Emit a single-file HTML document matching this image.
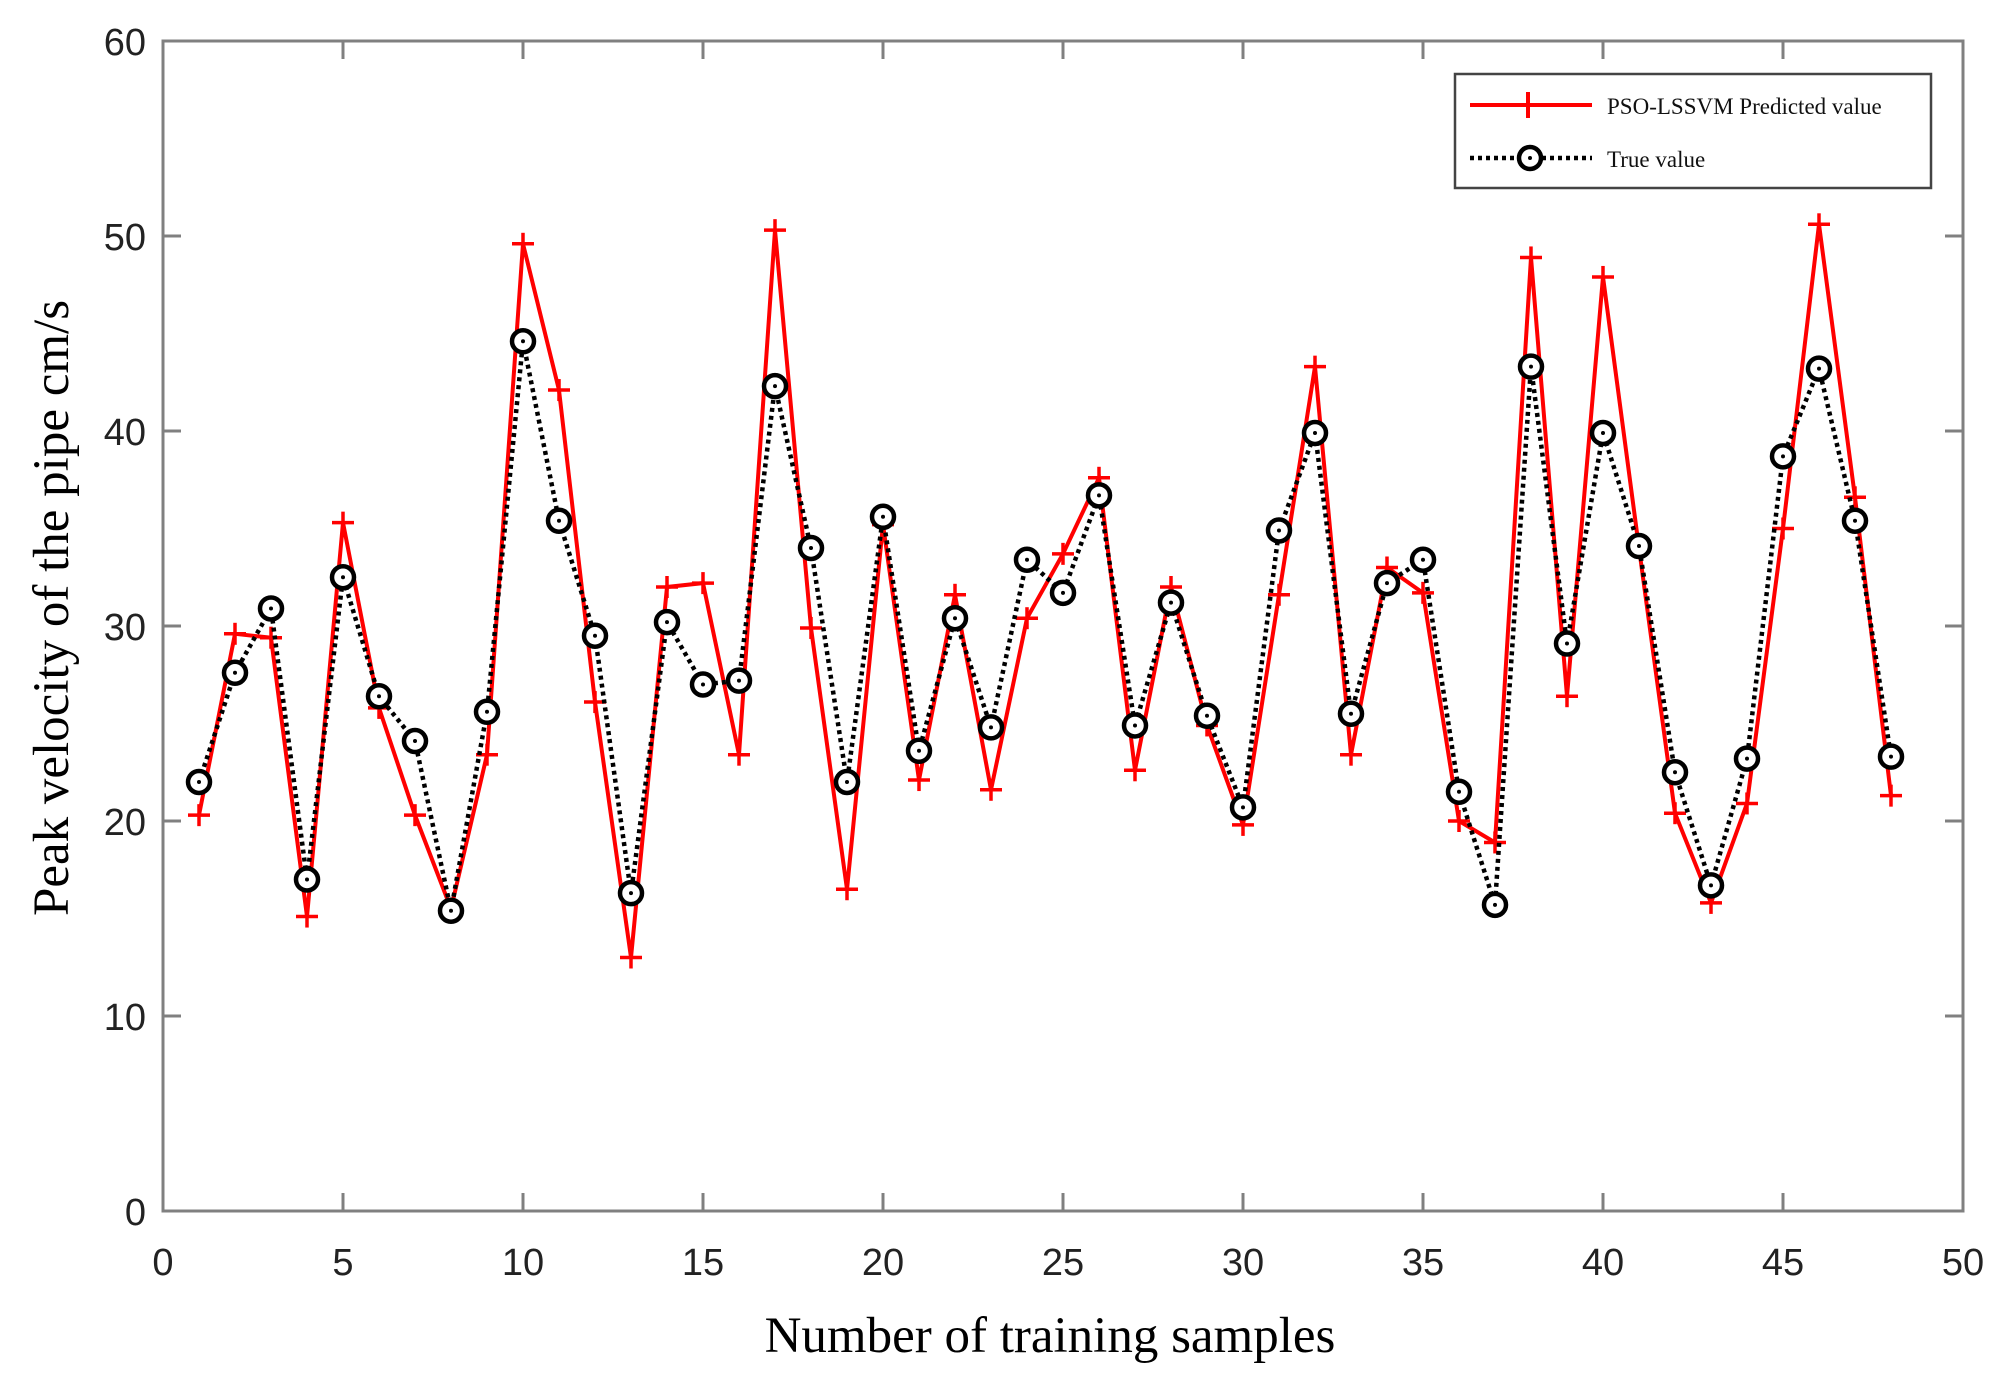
<!DOCTYPE html>
<html><head><meta charset="utf-8"><style>
html,body{margin:0;padding:0;background:#fff;}
svg{display:block;}
</style></head><body>
<svg id="chart" width="2006" height="1382" viewBox="0 0 2006 1382" xmlns="http://www.w3.org/2000/svg">
<rect width="2006" height="1382" fill="#fff"/>
<g id="axes"></g>
<g id="series"></g>
<g>
  <rect x="1455" y="74" width="476" height="114" fill="#fff" stroke="#444" stroke-width="2.5"/>
  <g>
    <line x1="1470" y1="105" x2="1592" y2="105" stroke="#ff0000" stroke-width="4"/>
    <line x1="1528" y1="92" x2="1528" y2="118" stroke="#ff0000" stroke-width="4"/>
    <text x="1607" y="114" font-family="Liberation Serif, serif" font-size="23" fill="#111">PSO-LSSVM Predicted value</text>
  </g>
  <g>
    <line x1="1470" y1="158" x2="1592" y2="158" stroke="#000" stroke-width="4.5" stroke-dasharray="4,4"/>
    <circle cx="1530" cy="158" r="11" fill="#fff" stroke="#000" stroke-width="4.5"/>
    <circle cx="1530" cy="158" r="2" fill="#000"/>
    <text x="1607" y="167" font-family="Liberation Serif, serif" font-size="23" fill="#111">True value</text>
  </g>
</g>
<text x="1050" y="1352" text-anchor="middle" font-family="Liberation Serif, serif" font-size="51" fill="#000">Number of training samples</text>
<text transform="translate(68,608) rotate(-90)" text-anchor="middle" font-family="Liberation Serif, serif" font-size="51" fill="#000">Peak velocity of the pipe cm/s</text>
</svg>
<script>
const samples = [1,2,3,4,5,6,7,8,9,10,11,12,13,14,15,16,17,18,19,20,21,22,23,24,25,26,27,28,29,30,31,32,33,34,35,36,37,38,39,40,41,42,43,44,45,46,47,48];
const predicted = [20.3,29.6,29.4,15.1,35.3,25.8,20.3,15.5,23.4,49.6,42.1,26.1,13.0,32.0,32.2,23.4,50.3,29.9,16.5,35.2,22.1,31.6,21.6,30.4,33.7,37.6,22.6,32.0,24.9,19.8,31.6,43.3,23.4,33.0,31.7,20.0,18.9,48.9,26.4,47.9,34.0,20.4,15.8,20.9,35.0,50.6,36.6,21.3];
const trueVals = [22.0,27.6,30.9,17.0,32.5,26.4,24.1,15.4,25.6,44.6,35.4,29.5,16.3,30.2,27.0,27.2,42.3,34.0,22.0,35.6,23.6,30.4,24.8,33.4,31.7,36.7,24.9,31.2,25.4,20.7,34.9,39.9,25.5,32.2,33.4,21.5,15.7,43.3,29.1,39.9,34.1,22.5,16.7,23.2,38.7,43.2,35.4,23.3];
const xTicks = [0,5,10,15,20,25,30,35,40,45,50];
const yTicks = [0,10,20,30,40,50,60];

const NS = 'http://www.w3.org/2000/svg';
const L=163,R=1963,T=41,B=1211;
const xs = v => L + (v-0)/(50-0)*(R-L);
const ys = v => B - (v-0)/(60-0)*(B-T);
function mk(tag, attrs, parent){const e=document.createElementNS(NS,tag);for(const k in attrs)e.setAttribute(k,attrs[k]);parent.appendChild(e);return e;}
const axes=document.getElementById('axes'), ser=document.getElementById('series');
const frame=mk('rect',{x:L,y:T,width:R-L,height:B-T,fill:'none',stroke:'#808080','stroke-width':3},axes);


xTicks.forEach(t=>{
  const x=xs(t);
  mk('line',{x1:x,y1:B,x2:x,y2:B-18,stroke:'#808080','stroke-width':3},axes);
  mk('line',{x1:x,y1:T,x2:x,y2:T+18,stroke:'#808080','stroke-width':3},axes);
  const tx=mk('text',{x:x,y:1275,'text-anchor':'middle','font-family':'Liberation Sans, sans-serif','font-size':38,fill:'#222'},axes);
  tx.textContent=t;
  
  
});
yTicks.forEach(t=>{
  const y=ys(t);
  mk('line',{x1:L,y1:y,x2:L+18,y2:y,stroke:'#808080','stroke-width':3},axes);
  mk('line',{x1:R,y1:y,x2:R-18,y2:y,stroke:'#808080','stroke-width':3},axes);
  const tx=mk('text',{x:146,y:y+14,'text-anchor':'end','font-family':'Liberation Sans, sans-serif','font-size':38,fill:'#222'},axes);
  tx.textContent=t;
  
  
});
const pl=mk('polyline',{points:samples.map((s,i)=>xs(s)+','+ys(predicted[i])).join(' '),fill:'none',stroke:'#ff0000','stroke-width':4,'stroke-linejoin':'miter'},ser);


samples.forEach((s,i)=>{
  const x=xs(s),y=ys(predicted[i]);
  const g=mk('g',{},ser);
  
  
  mk('line',{x1:x-11,y1:y,x2:x+11,y2:y,stroke:'#ff0000','stroke-width':3.5},g);
  mk('line',{x1:x,y1:y-11,x2:x,y2:y+11,stroke:'#ff0000','stroke-width':3.5},g);
});
const tl=mk('polyline',{points:samples.map((s,i)=>xs(s)+','+ys(trueVals[i])).join(' '),fill:'none',stroke:'#000','stroke-width':4.5,'stroke-dasharray':'4,4'},ser);


samples.forEach((s,i)=>{
  const x=xs(s),y=ys(trueVals[i]);
  const g=mk('g',{},ser);
  
  
  mk('circle',{cx:x,cy:y,r:11,fill:'#fff',stroke:'#000','stroke-width':4.5},g);
  mk('circle',{cx:x,cy:y,r:2,fill:'#000'},g);
});
</script>
</body></html>
